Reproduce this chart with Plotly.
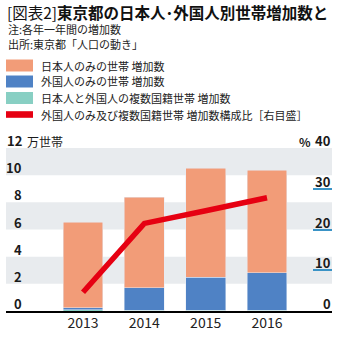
import plotly.graph_objects as go

# ---- data ----
years = ["2013", "2014", "2015", "2016"]
japanese_only = [6.30, 6.65, 8.00, 7.56]      # 万世帯
foreign_only = [0.15, 1.66, 2.44, 2.76]       # 万世帯
mixed = [0.08, 0.06, 0.06, 0.06]              # 万世帯
foreign_ratio = [4.6, 21.5, 24.6, 27.8]       # %
left_ticks = [0, 2, 4, 6, 8, 10, 12]
right_ticks = [0, 10, 20, 30, 40]

legend_labels = [
    "日本人のみの世帯 増加数",
    "外国人のみの世帯 増加数",
    "日本人と外国人の複数国籍世帯 増加数",
    "外国人のみ及び複数国籍世帯 増加数構成比［右目盛］",
]

C_JP = "#F29C78"
C_FO = "#4F82C5"
C_MX = "#88CFC3"
C_RED = "#E60012"
C_BAND = "#E8EBEE"
C_BLUE_TICK = "#3A93C6"
FONT = "Noto Sans CJK JP"

W, H = 343, 338
ML, MR, MT, MB = 6, 11, 148, 27
PW, PH = W - ML - MR, H - MT - MB


def px(x):
    return (x - ML) / PW


def py(y):
    return (H - MB - y) / PH


fig = go.Figure()
fig.add_bar(x=years, y=mixed, marker_color=C_MX, width=0.65, name=legend_labels[2])
fig.add_bar(x=years, y=foreign_only, marker_color=C_FO, width=0.65, name=legend_labels[1])
fig.add_bar(x=years, y=japanese_only, marker_color=C_JP, width=0.65, name=legend_labels[0])
fig.add_scatter(x=years, y=foreign_ratio, yaxis="y2", mode="lines",
                line=dict(color=C_RED, width=5.5), name=legend_labels[3])

shapes = []
for y0 in (2, 6, 10):
    shapes.append(dict(type="rect", xref="paper", yref="y", x0=0, x1=1, y0=y0, y1=y0 + 2,
                       fillcolor=C_BAND, line_width=0, layer="below"))

annotations = []
LAB_SHIFT = -4
# left tick labels
for v in left_ticks:
    annotations.append(dict(xref="paper", yref="y", x=px(23.5), y=v, xanchor="right",
                            yanchor="bottom", yshift=LAB_SHIFT, showarrow=False,
                            text=f"<b>{v}</b>", font=dict(size=13, color="#1a1a1a", family=FONT)))
annotations.append(dict(xref="paper", yref="y", x=px(25), y=12, xanchor="left",
                        yanchor="bottom", yshift=LAB_SHIFT, showarrow=False,
                        text="万世帯", font=dict(size=12, color="#1a1a1a", family=FONT)))
# right tick labels
for v in right_ticks:
    annotations.append(dict(xref="paper", yref="y2", x=px(333), y=v, xanchor="right",
                            yanchor="bottom", yshift=LAB_SHIFT, showarrow=False,
                            text=f"<b>{v}</b>", font=dict(size=13, color="#1a1a1a", family=FONT)))
annotations.append(dict(xref="paper", yref="y2", x=px(313), y=40, xanchor="right",
                        yanchor="bottom", yshift=LAB_SHIFT, showarrow=False,
                        text="<b>%</b>", font=dict(size=12, color="#1a1a1a", family=FONT)))

# title & notes
annotations.append(dict(xref="paper", yref="paper", x=px(5), y=py(12), xanchor="left",
                        yanchor="middle", showarrow=False,
                        text="[図表2]<b>東京都の日本人･外国人別世帯増加数と</b>",
                        font=dict(size=15.5, color="#111", family=FONT)))
annotations.append(dict(xref="paper", yref="paper", x=px(6), y=py(29), xanchor="left",
                        yanchor="middle", showarrow=False, text="注:各年一年間の増加数",
                        font=dict(size=11, color="#222", family=FONT)))
annotations.append(dict(xref="paper", yref="paper", x=px(6), y=py(44), xanchor="left",
                        yanchor="middle", showarrow=False, text="出所:東京都「人口の動き」",
                        font=dict(size=11, color="#222", family=FONT)))

# manual legend
row_y = [65.5, 81.5, 98, 114.5]
sw_colors = [C_JP, C_FO, C_MX, C_RED]
for i, (lab, c) in enumerate(zip(legend_labels, sw_colors)):
    hh = 6 if i < 3 else 3.3
    shapes.append(dict(type="rect", xref="paper", yref="paper", x0=px(6), x1=px(33),
                       y0=py(row_y[i] + hh), y1=py(row_y[i] - hh), fillcolor=c, line_width=0))
    annotations.append(dict(xref="paper", yref="paper", x=px(39), y=py(row_y[i]),
                            xanchor="left", yanchor="middle", showarrow=False, text=lab,
                            font=dict(size=11, color="#222", family=FONT)))

fig.update_layout(
    width=W, height=H, margin=dict(l=ML, r=MR, t=MT, b=MB, pad=0),
    barmode="stack", showlegend=False,
    paper_bgcolor="white", plot_bgcolor="white",
    font=dict(family=FONT, color="#222"),
    shapes=shapes, annotations=annotations,
    xaxis=dict(type="category", range=[-1.256, 4.06], showgrid=False, ticks="",
               showline=True, linecolor="black", linewidth=1.5, automargin=False,
               ticklabelstandoff=-2,
               tickfont=dict(size=14, color="#222", family=FONT)),
    yaxis=dict(range=[0, 12], showgrid=False, zeroline=False, showticklabels=False,
               ticks="", automargin=False),
    yaxis2=dict(range=[0, 40], overlaying="y", side="right", showgrid=False,
                zeroline=False, showticklabels=False, ticks="inside", ticklen=19,
                tickwidth=1.5, tickcolor=C_BLUE_TICK, tickvals=[10, 20, 30, 40],
                showline=False, automargin=False),
)

fig.write_html("out.html")
